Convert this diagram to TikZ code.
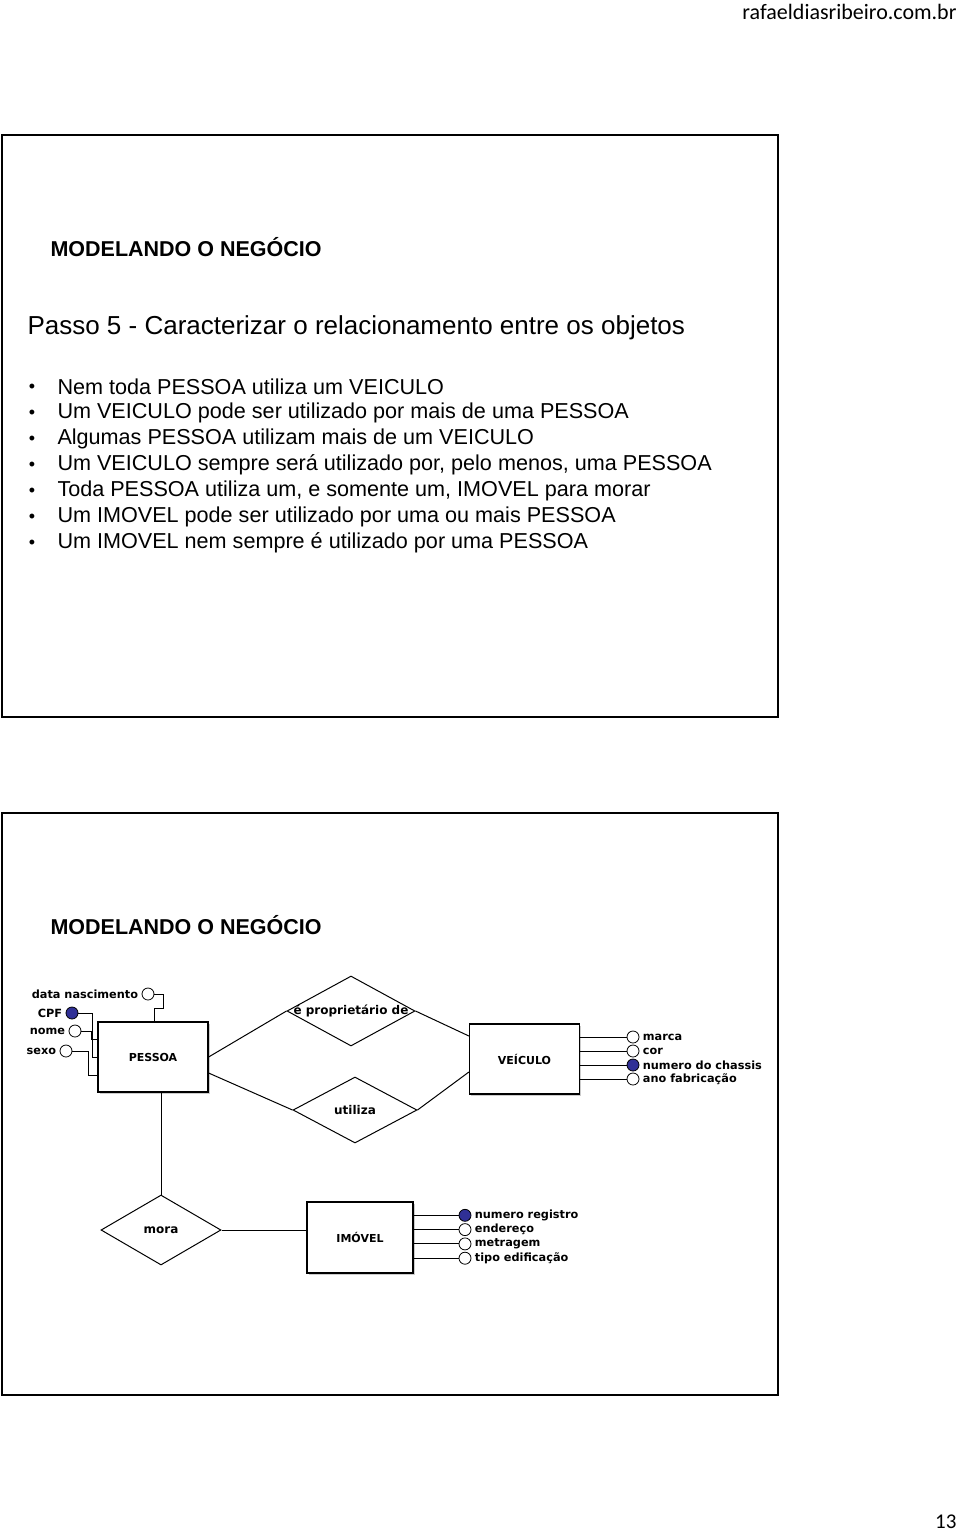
\documentclass[tikz,border=0pt]{standalone}
\usepackage{fontspec}
\setmainfont{Liberation Sans}
\newfontfamily\erfont{DejaVu Sans}
\newfontfamily\hdfont{Carlito}
\usetikzlibrary{positioning,shapes.geometric,shadows}

\definecolor{keyblue}{RGB}{48,48,150}

\tikzset{
	slide/.style={draw,line width=2pt},
	ent/.style={draw,fill=white,line width=1.2pt,minimum width=110pt,minimum height=70pt,
		font=\erfont\bfseries\fontsize{11}{13}\selectfont,
		drop shadow={shadow xshift=1.5pt,shadow yshift=-1.5pt,opacity=0.4}},
	rel/.style={diamond,draw,inner sep=0pt,line width=1pt,
		label={[font=\erfont\bfseries\fontsize{12}{14}\selectfont]center:#1}},
	attr/.style={circle,draw,fill=white,inner sep=0pt,minimum size=12pt,line width=0.8pt},
	keyattr/.style={attr,fill=keyblue},
	attrtxt/.style={inner sep=1pt,font=\erfont\bfseries\fontsize{11.3}{13}\selectfont},
	bul/.style={anchor=west,inner sep=0pt,font=\fontsize{21.6}{24}\selectfont},
}

\begin{document}
\begin{tikzpicture}[x=1pt,y=-1pt,line width=1pt]
	\useasboundingbox (0,0) rectangle (960,1534);

	\node (site) [anchor=east,inner sep=0pt,font=\hdfont\fontsize{22}{24}\selectfont] at (957,12) {rafaeldiasribeiro.com.br};
	\node (page) [anchor=east,inner sep=0pt,font=\hdfont\fontsize{21}{24}\selectfont] at (957,1522) {13};

	% slide 1
	\draw[slide] (2,135) rectangle (778,717);
	\node (t1) [anchor=west,inner sep=0pt,font=\bfseries\fontsize{21.5}{24}\selectfont] at (50,247) {MODELANDO O NEGÓCIO};
	\node (passo) [anchor=west,inner sep=0pt,font=\fontsize{26}{28}\selectfont] at (27,328) {Passo 5 - Caracterizar o relacionamento entre os objetos};
	\foreach \txt [count=\i] in {
		Nem toda PESSOA utiliza um VEICULO,
		Um VEICULO pode ser utilizado por mais de uma PESSOA,
		Algumas PESSOA utilizam mais de um VEICULO,
		{Um VEICULO sempre será utilizado por, pelo menos, uma PESSOA},
		{Toda PESSOA utiliza um, e somente um, IMOVEL para morar},
		Um IMOVEL pode ser utilizado por uma ou mais PESSOA,
		Um IMOVEL nem sempre é utilizado por uma PESSOA}
	{
		\node (dot\i) [inner sep=0pt,font=\fontsize{18}{20}\selectfont] at (32,362+26*\i) {•};
		\node (b\i) [bul] at (57,361+26*\i) {\txt};
	}

	% slide 2
	\draw[slide] (2,813) rectangle (778,1395);
	\node (t2) [anchor=west,inner sep=0pt,font=\bfseries\fontsize{21.5}{24}\selectfont] at (50,925) {MODELANDO O NEGÓCIO};

	% entities
	\node (pessoa) [ent] at (153,1057) {PESSOA};
	\node (veic) [ent] at (524.5,1059) {VEÍCULO};
	\node (imovel) [ent,minimum width=106pt,minimum height=71pt] at (360,1237.5) {IMÓVEL};

	% relationships
	\node (propr) [rel={é proprietário de},minimum width=128pt,minimum height=70pt] at (351,1011) {};
	\node (util) [rel=utiliza,minimum width=124pt,minimum height=66pt] at (355,1110) {};
	\node (mora) [rel=mora,minimum width=120pt,minimum height=70pt] at (161,1230) {};

	\draw (pessoa.east) -- (propr.west);
	\draw (propr.east) -- ([yshift=23pt]veic.west);
	\draw ([yshift=-16pt]pessoa.east) -- (util.west);
	\draw (util.east) -- ([yshift=-13pt]veic.west);
	\draw ([xshift=8pt]pessoa.south) -- (mora.north);
	\draw (mora.east) -- (mora.east -| imovel.west);

	% PESSOA attributes
	\node (dn) [attr] at (148,994) {};
	\node (cpf) [keyattr] at (72,1013) {};
	\node (nome) [attr] at (75,1031) {};
	\node (sexo) [attr] at (66,1051) {};
	\node (dnt) [attrtxt,left=2pt of dn] {data nascimento};
	\node (cpft) [attrtxt,left=2pt of cpf] {CPF};
	\node (nomet) [attrtxt,left=2pt of nome] {nome};
	\node (sexot) [attrtxt,left=2pt of sexo] {sexo};
	\draw (dn.east) -| ++(9,14) -| ([xshift=1pt]pessoa.north);
	\draw (cpf.east) -| ([xshift=-5pt]pessoa.west) -- (pessoa.west);
	\draw (nome.east) -| ([xshift=-6pt,yshift=18pt]pessoa.west) -- ([yshift=18pt]pessoa.west);
	\draw (sexo.east) -| ([xshift=-9pt,yshift=-18pt]pessoa.west) -- ([yshift=-18pt]pessoa.west);

	% VEICULO attributes
	\foreach \nm/\txt/\st [count=\i] in {marca/marca/attr, cor/cor/attr,
		chassis/numero do chassis/keyattr, ano/ano fabricação/attr}
	{
		\node (\nm) [\st] at (633,1023+14*\i) {};
		\node (\nm t) [attrtxt,right=2pt of \nm] {\txt};
		\draw (\nm.west -| veic.east) -- (\nm.west);
	}

	% IMOVEL attributes
	\foreach \nm/\txt/\st [count=\i] in {reg/numero registro/keyattr, end/endereço/attr,
		metr/metragem/attr, tipo/tipo edificação/attr}
	{
		\node (\nm) [\st] at (465,1201+14.3*\i) {};
		\node (\nm t) [attrtxt,right=2pt of \nm] {\txt};
		\draw (\nm.west -| imovel.east) -- (\nm.west);
	}
\end{tikzpicture}
\end{document}
